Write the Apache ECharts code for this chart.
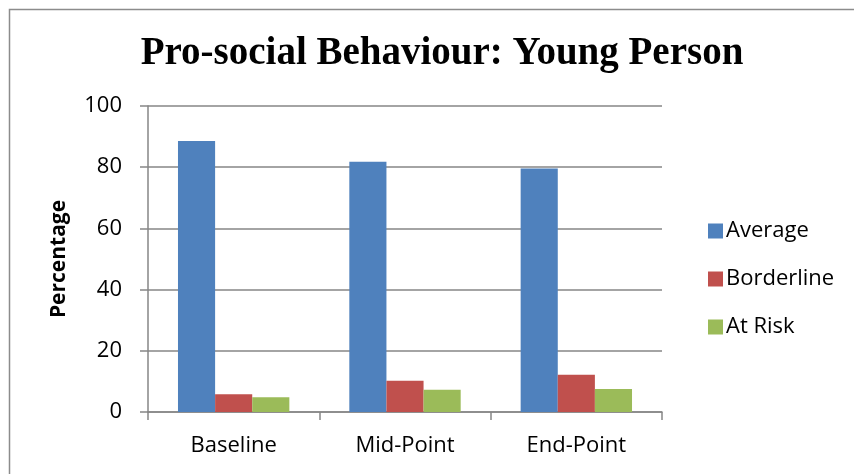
<!DOCTYPE html>
<html>
<head>
<meta charset="utf-8">
<script src="https://cdn.jsdelivr.net/npm/echarts@6/dist/echarts.min.js"></script>
<style>
  html, body { margin: 0; padding: 0; background: #fff; }
  #chart { width: 854px; height: 474px; }
</style>
</head>
<body>
<div id="chart"></div>
<script>
// data
var categories = ['Baseline', 'Mid-Point', 'End-Point'];
var averageData = [88.6, 81.8, 79.6];
var borderlineData = [5.8, 10.2, 12.2];
var atRiskData = [4.8, 7.3, 7.5];
var yTicks = [0, 20, 40, 60, 80, 100];

var chart = echarts.init(document.getElementById('chart'));

var labelFont = '"Open Sans", sans-serif';

var option = {
  animation: false,
  backgroundColor: '#fff',
  title: {
    text: 'Pro-social Behaviour: Young Person',
    left: 437,
    top: 29,
    textAlign: 'center',
    textStyle: {
      fontFamily: '"Liberation Serif", serif',
      fontWeight: 'bold',
      fontSize: 39,
      color: '#000'
    }
  },
  graphic: [{
    type: 'rect',
    shape: { x: 9.5, y: 9.5, width: 900, height: 520 },
    style: { fill: 'none', stroke: '#8c8c8c', lineWidth: 1.5 },
    silent: true
  }],
  legend: {
    orient: 'vertical',
    left: 703,
    top: 211,
    itemWidth: 15,
    itemHeight: 15,
    itemGap: 18,
    icon: 'rect',
    textStyle: {
      fontFamily: labelFont,
      fontSize: 22,
      lineHeight: 30,
      color: '#000',
      padding: [0, 0, 0, -2]
    },
    data: ['Average', 'Borderline', 'At Risk']
  },
  grid: {
    left: 148,
    right: 192,
    top: 106,
    bottom: 62
  },
  xAxis: {
    type: 'category',
    data: categories,
    axisLine: { lineStyle: { color: '#868686', width: 1.5 } },
    axisTick: { show: true, length: 8, lineStyle: { color: '#868686', width: 1.5 } },
    axisLabel: {
      margin: 23,
      fontFamily: labelFont,
      fontSize: 22,
      color: '#000'
    }
  },
  yAxis: {
    type: 'value',
    min: yTicks[0],
    max: yTicks[yTicks.length - 1],
    interval: 20,
    name: 'Percentage',
    nameLocation: 'middle',
    nameGap: 78,
    nameTextStyle: {
      fontFamily: labelFont,
      fontWeight: 'bold',
      fontSize: 21,
      color: '#000'
    },
    axisLine: { show: true, lineStyle: { color: '#868686', width: 1.5 } },
    axisTick: { show: true, length: 8, lineStyle: { color: '#868686', width: 1.5 } },
    splitLine: { lineStyle: { color: '#868686', width: 1.5 } },
    axisLabel: {
      margin: 26,
      fontFamily: labelFont,
      fontSize: 22,
      color: '#000'
    }
  },
  series: [
    {
      name: 'Average',
      type: 'bar',
      data: averageData,
      itemStyle: { color: '#4F81BD' },
      barGap: '0%',
      barCategoryGap: '35%'
    },
    {
      name: 'Borderline',
      type: 'bar',
      data: borderlineData,
      itemStyle: { color: '#C0504D' }
    },
    {
      name: 'At Risk',
      type: 'bar',
      data: atRiskData,
      itemStyle: { color: '#9BBB59' }
    }
  ]
};

chart.setOption(option);
</script>
</body>
</html>
